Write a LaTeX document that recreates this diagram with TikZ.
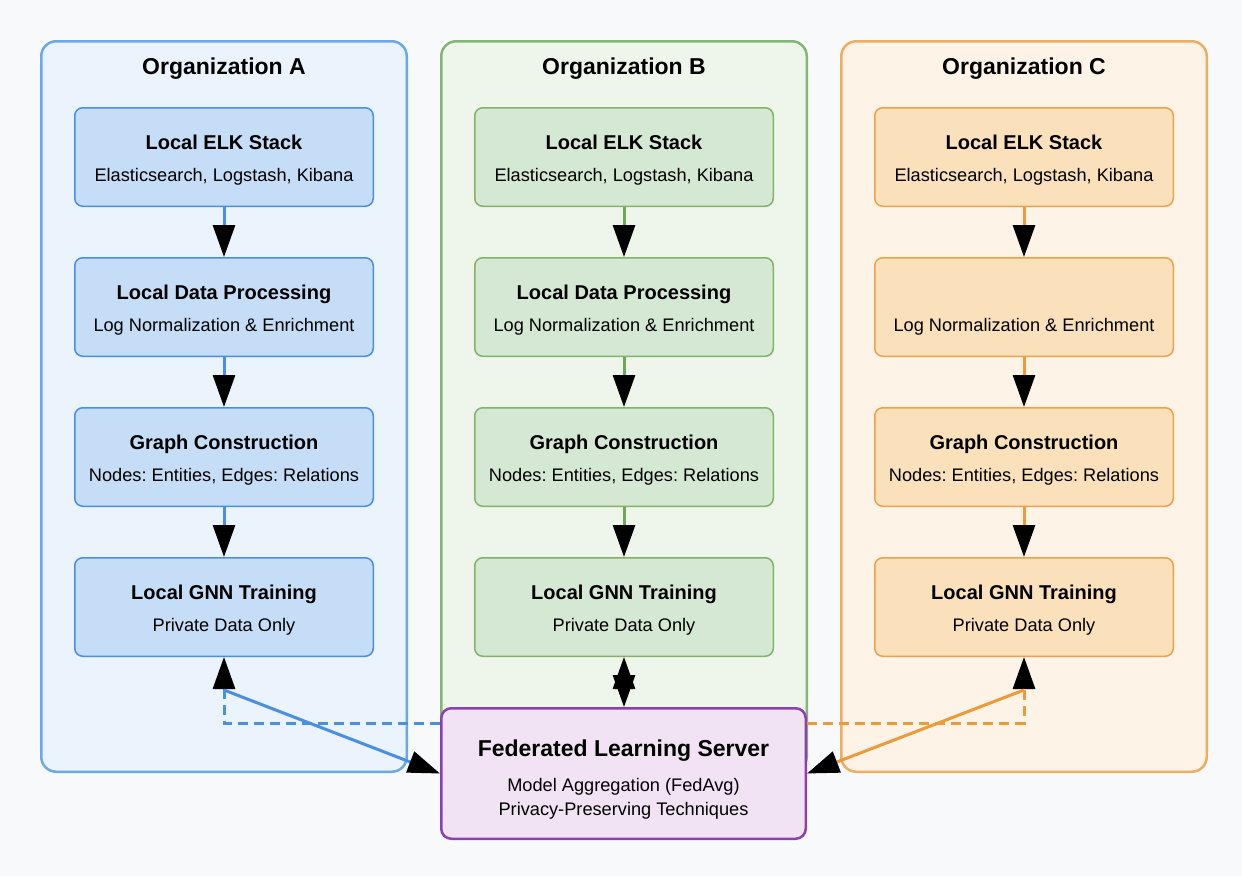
\documentclass[tikz,border=0pt]{standalone}
\usepackage{xcolor}
\usepackage{fontspec}
\setmainfont{Liberation Sans}
\usepackage{tikz}
\usetikzlibrary{arrows.meta}

\definecolor{bgcol}{HTML}{F8F9FB}
\definecolor{orgfillblue}{HTML}{EBF3FD}
\definecolor{orgdrawblue}{HTML}{6AA8EC}
\definecolor{stagefillblue}{HTML}{C5DDF6}
\definecolor{stagedrawblue}{HTML}{4A90E2}
\definecolor{lineblue}{HTML}{4A90E2}
\definecolor{orgfillgreen}{HTML}{EEF6EC}
\definecolor{orgdrawgreen}{HTML}{82B874}
\definecolor{stagefillgreen}{HTML}{D5E8D4}
\definecolor{stagedrawgreen}{HTML}{82B366}
\definecolor{linegreen}{HTML}{6FA65A}
\definecolor{orgfillorange}{HTML}{FDF3E6}
\definecolor{orgdraworange}{HTML}{F0AD5F}
\definecolor{stagefillorange}{HTML}{FAE1BC}
\definecolor{stagedraworange}{HTML}{EDA14C}
\definecolor{lineorange}{HTML}{ED9A3A}
\definecolor{serverfill}{HTML}{F1E3F4}
\definecolor{serverdraw}{HTML}{8E3FAE}

\frenchspacing

\begin{document}
\begin{tikzpicture}[x=1pt, y=-1pt]
        \tikzstyle{org}=[draw, rounded corners=15pt, line width=2.5pt, minimum width=365.5pt, minimum height=730.5pt, inner sep=0pt]
        \tikzstyle{stage}=[draw, rounded corners=8pt, line width=1.5pt, minimum width=298.5pt, minimum height=98.5pt, inner sep=0pt]
        \tikzstyle{server}=[draw=serverdraw, fill=serverfill, rounded corners=10pt, line width=2.5pt, minimum width=364.5pt, minimum height=130.5pt, inner sep=0pt]
        \tikzstyle{orgtitle}=[anchor=base, inner sep=0pt, font=\bfseries\fontsize{23}{27}\selectfont]
        \tikzstyle{head}=[anchor=base, inner sep=0pt, font=\bfseries\fontsize{20}{24}\selectfont]
        \tikzstyle{sub}=[anchor=base, inner sep=0pt, font=\fontsize{18.2}{22}\selectfont]
        \tikzstyle{flow}=[line width=3pt, -{Triangle[length=32pt,width=22pt,color=black]}]

        \useasboundingbox (0,0) rectangle (1242,876);
        \fill[bgcol] (0,0) rectangle (1242,876);

        % Draw the three organizations with their local pipeline
        \foreach \org/\cx/\col in {A/224/blue, B/624/green, C/1024/orange} {
            \node[org, fill=orgfill\col, draw=orgdraw\col] (org-\org) at (\cx, 406.5) {};
            \node[orgtitle] (org-\org-title) at (\cx, 74) {Organization \org};
            \foreach \stage/\y/\sub in {elk/157/{Elasticsearch, Logstash, Kibana}, proc/307/{Log Normalization \& Enrichment}, graph/457/{Nodes: Entities, Edges: Relations}, gnn/607/{Private Data Only}} {
                \node[stage, fill=stagefill\col, draw=stagedraw\col] (\stage-\org) at (\cx, \y) {};
                \node[sub] (\stage-\org-sub) at (\cx, \y+24.5) {\sub};
            }
            \draw[flow, draw=line\col] (elk-\org) -- (proc-\org);
            \draw[flow, draw=line\col] (proc-\org) -- (graph-\org);
            \draw[flow, draw=line\col] (graph-\org) -- (gnn-\org);
        }

        % Stage titles (no title on the processing stage of C)
        \foreach \org in {A,B,C}
            \foreach \stage/\name in {elk/Local ELK Stack, graph/Graph Construction, gnn/Local GNN Training}
                \path (\stage-\org.center) ++(0,-8) node[head] (\stage-\org-head) {\name};
        \foreach \org in {A,B}
            \path (proc-\org.center) ++(0,-8) node[head] (proc-\org-head) {Local Data Processing};

        % Draw the server
        \node[server] (server) at (623.5, 773.5) {};
        \node[orgtitle] (server-title) at (623.5, 756) {Federated Learning Server};
        \node[sub] (server-agg) at (623.5, 791) {Model Aggregation (FedAvg)};
        \node[sub] (server-priv) at (623.5, 815) {Privacy-Preserving Techniques};

        % Connect the organizations with the server
        \coordinate (turn-A) at (224, 690);
        \coordinate (dash-A) at (224, 723);
        \coordinate (turn-C) at (1024, 690);
        \coordinate (dash-C) at (1024, 723);

        \draw[flow, draw=lineblue, dash pattern=on 10pt off 6pt] (server.west |- dash-A) -- (dash-A) -- (gnn-A.south);
        \draw[flow, draw=lineblue] (turn-A) -- (server.west);

        \draw[flow, draw=lineorange, dash pattern=on 10pt off 6pt] (server.east |- dash-C) -- (dash-C) -- (gnn-C.south);
        \draw[flow, draw=lineorange] (turn-C) -- (server.east);

        \draw[line width=3pt, draw=linegreen, {Triangle[length=32pt,width=22pt,color=black]}-{Triangle[length=32pt,width=22pt,color=black]}] (gnn-B.south) -- (gnn-B.south |- server.north);
\end{tikzpicture}
\end{document}
